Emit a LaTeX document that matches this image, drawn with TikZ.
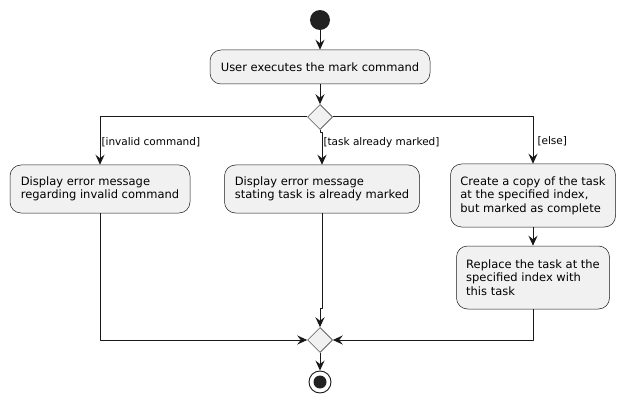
\documentclass[tikz,border=0pt]{standalone}
\usepackage{fontspec}
\setmainfont{DejaVu Sans}
\usetikzlibrary{arrows.meta,shapes.geometric}

\definecolor{umlline}{HTML}{181818}
\definecolor{umlfill}{HTML}{F1F1F1}
\definecolor{umldot}{HTML}{222222}

\begin{document}
\begin{tikzpicture}[x=1pt, y=-1pt, >={Stealth[length=10pt,width=9pt,inset=3.5pt]},
		line join=round,
		action/.style={draw=umlline, line width=0.5pt, fill=umlfill, rounded corners=11pt,
			align=left, font=\fontsize{11.5}{13.5}\selectfont, inner sep=0pt},
		branch/.style={diamond, draw=umlline, line width=0.5pt, fill=umlfill,
			minimum width=25pt, minimum height=25pt, inner sep=0pt},
		flow/.style={draw=umlline, line width=1pt, ->},
		guard/.style={font=\fontsize{10.5}{12}\selectfont, inner sep=1pt, anchor=west}]
		
		\useasboundingbox (0,0) rectangle (625,404);
		
		% --- start and first action ---
		\node[circle, fill=umldot, minimum size=20pt, inner sep=0pt] (start) at (320,20) {};
		\node[action, minimum width=220pt, minimum height=34pt] (exec) at (320,67) {User executes the mark command};
		
		% --- decision ---
		\node[branch] (split) at (320,117) {};
		
		% --- three branches ---
		\node[action, minimum width=180pt, minimum height=48pt] (invalid) at (100,189)
		{Display error message\\regarding invalid command};
		\node[action, minimum width=195pt, minimum height=48pt] (marked) at (322,189)
		{Display error message\\stating task is already marked};
		\node[action, minimum width=165pt, minimum height=63pt] (copy) at (533,195.5)
		{Create a copy of the task\\at the specified index,\\but marked as complete};
		\node[action, minimum width=153pt, minimum height=63pt] (replace) at (533,277.5)
		{Replace the task at the\\specified index with\\this task};
		
		% --- merge and end ---
		\node[branch] (merge) at (320,340) {};
		\node[circle, draw=umlline, line width=0.9pt, fill=white, minimum size=22pt, inner sep=0pt] (stop) at (320,382) {};
		\node[circle, fill=umldot, minimum size=13pt, inner sep=0pt] (stopdot) at (stop) {};
		
		\coordinate (jogtop) at (320,133);
		\coordinate (jogbot) at (320,308);
		
		% --- connectors ---
		\draw[flow] (start) -- (exec);
		\draw[flow] (exec) -- (split);
		\draw[flow] (split.west) -| (invalid.north)
		node[guard, pos=0.76] (ginvalid) {[invalid command]};
		\draw[flow] (split.south) -- (jogtop) -| (marked.north)
		node[guard, pos=0.65] (gmarked) {[task already marked]};
		\draw[flow] (split.east) -| (copy.north)
		node[guard, pos=0.76, xshift=3pt] (gelse) {[else]};
		\draw[flow] (copy) -- (replace);
		
		\draw[flow] (invalid.south) |- (merge.west);
		\draw[flow] (marked.south) |- (jogbot) -- (merge.north);
		\draw[flow] (replace.south) |- (merge.east);
		\draw[flow] (merge) -- (stop);
		
	\end{tikzpicture}
\end{document}
